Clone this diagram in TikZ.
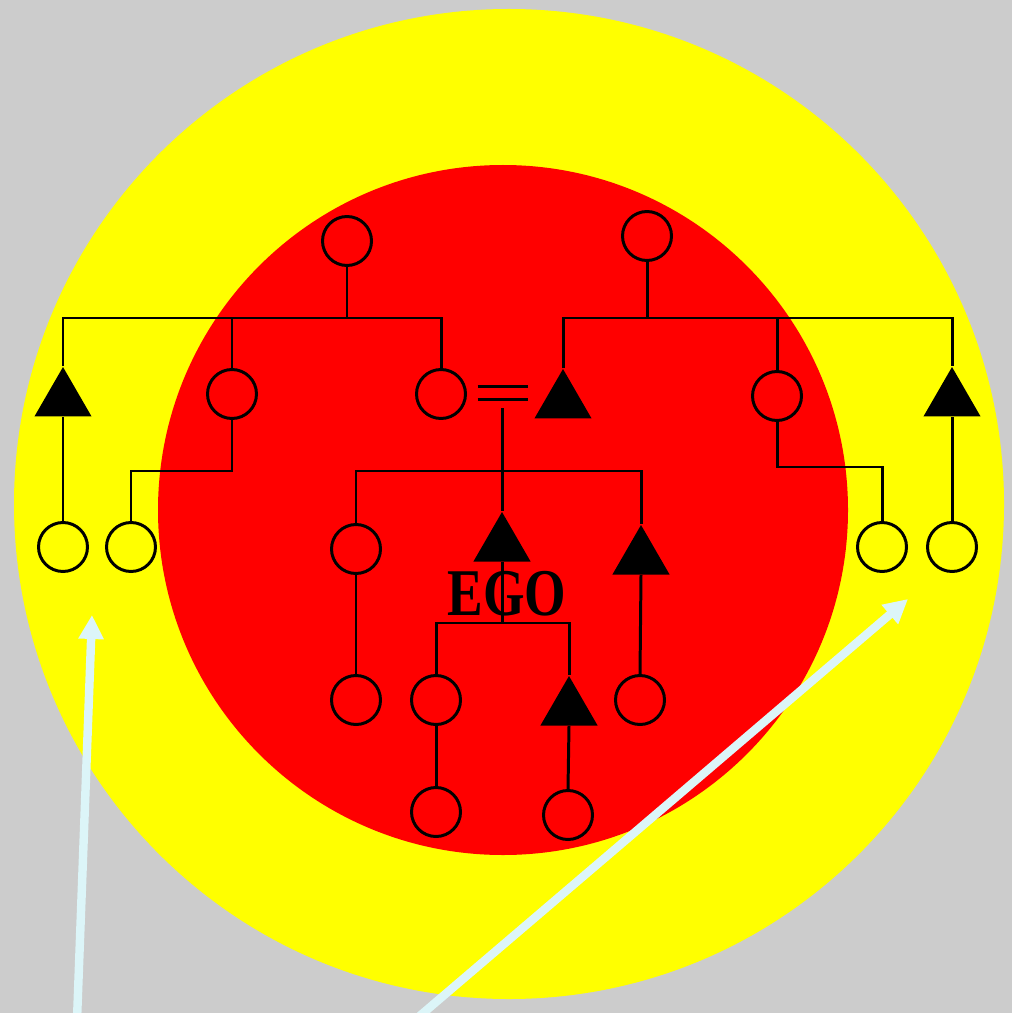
\documentclass[tikz,border=0pt]{standalone}
\usepackage{fontspec}
\setmainfont{Liberation Serif}
\usetikzlibrary{shapes.geometric,arrows.meta}
\definecolor{bggray}{RGB}{204,204,204}
\definecolor{ringyellow}{RGB}{255,255,0}
\definecolor{corered}{RGB}{255,0,0}
\definecolor{arrowcyan}{RGB}{220,245,248}
\tikzset{
  person/.style={circle,draw=black,line width=1.7pt,inner sep=0pt,minimum size=0.98cm},
  male/.style={regular polygon,regular polygon sides=3,fill=black,inner sep=0pt,minimum size=1.32cm},
  kin/.style={draw=black,line width=1.7pt},
  pointer/.style={draw=arrowcyan,line width=4.8pt,-{Triangle[width=0.48cm,length=0.48cm]}}
}
\begin{document}
\begin{tikzpicture}[x=0.02cm,y=-0.02cm]
\useasboundingbox (0,0) rectangle (1012,1013);
\fill[bggray] (0,0) rectangle (1012,1013);
\fill[ringyellow] (509,504) circle[radius=495];
\fill[corered] (503,510) ellipse[x radius=345,y radius=345];

% persons
\node[person] (pL) at (347,241) {};
\node[person] (pR) at (647,236) {};
\node[person] (cL2) at (232,394) {};
\node[person] (cL3) at (441,394) {};
\node[person] (cR2) at (777,396) {};
\node[person] (yL1) at (63,547) {};
\node[person] (yL2) at (131,547) {};
\node[person] (yR1) at (882,547) {};
\node[person] (yR2) at (952,547) {};
\node[person] (s1) at (356,549) {};
\node[person] (s1c) at (356,700) {};
\node[person] (d1) at (436,700) {};
\node[person] (d1c) at (436,812) {};
\node[person] (broc) at (640,700) {};
\node[person] (sonc) at (568,815) {};

\node[male] (tL) at (63,400) {};
\node[male] (tR) at (952,400) {};
\node[male] (tH) at (563,402) {};
\node[male] (ego) at (502,545) {};
\node[male] (bro) at (641,558) {};
\node[male] (son) at (569,709) {};

% junctions
\coordinate (jL) at (347,318);
\coordinate (jR) at (647,318);
\coordinate (kL) at (232,471);
\coordinate (kR) at (777,467);
\coordinate (jM) at (502,471);
\coordinate (jE) at (502,623);

% left family
\draw[kin] (pL.south) -- (jL);
\draw[kin] (tL.corner 1) |- (jL) -| (cL3.north);
\draw[kin] (cL2.north) -- (cL2.north |- jL);
\draw[kin] (tL.side 2) -- (yL1.north);
\draw[kin] (cL2.south) -- (kL) -| (yL2.north);

% right family
\draw[kin] (pR.south) -- (jR);
\draw[kin] (tH.corner 1) |- (jR) -| (tR.corner 1);
\draw[kin] (cR2.north) -- (cR2.north |- jR);
\draw[kin] (tR.side 2) -- (yR2.north);
\draw[kin] (cR2.south) -- (kR) -| (yR1.north);

% marriage
\node[minimum width=1cm,minimum height=0.24cm,inner sep=0pt] (eq) at (503,393) {};
\draw[kin] (eq.north west) -- (eq.north east);
\draw[kin] (eq.south west) -- (eq.south east);
\draw[kin] ([yshift=-0.18cm]eq.south -| ego.corner 1) -- (ego.corner 1);

% ego generation
\draw[kin] (s1.north) |- (jM) -| (bro.corner 1);
\draw[kin] (s1.south) -- (s1c.north);
\draw[kin] (bro.side 2) -- (broc.north);

% ego children
\draw[kin] (ego.side 2) -- (jE);
\draw[kin] (d1.north) |- (jE) -| (son.corner 1);
\draw[kin] (d1.south) -- (d1c.north);
\draw[kin] (son.side 2) -- (sonc.north);

\node[anchor=base,inner sep=0pt,xscale=0.8,font=\fontsize{38pt}{38pt}\selectfont\bfseries] (egolabel) at (507,615) {EGO};

% pointers
\coordinate (a1s) at (77,1020);
\coordinate (a1e) at (92,615);
\coordinate (a2s) at (415,1020);
\coordinate (a2e) at (908,599);
\draw[pointer] (a1s) -- (a1e);
\draw[pointer] (a2s) -- (a2e);
\end{tikzpicture}
\end{document}
